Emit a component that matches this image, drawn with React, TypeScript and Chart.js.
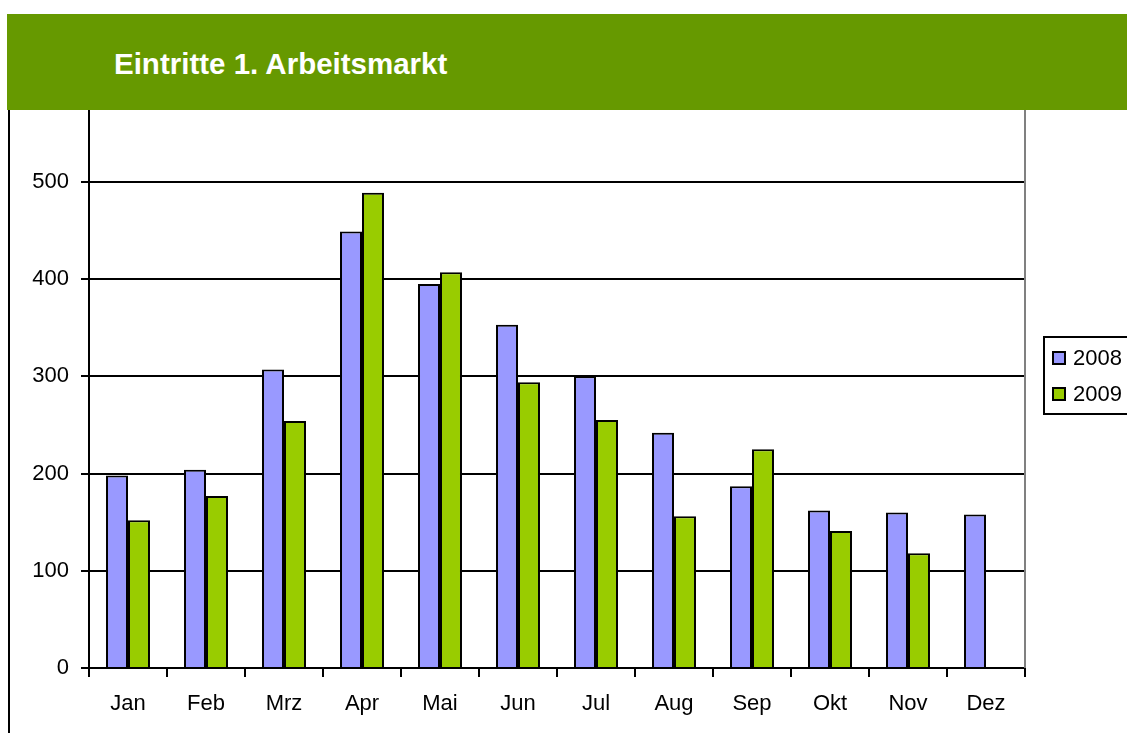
import React, { useEffect, useRef } from 'react';
import { Chart, registerables } from 'chart.js';

Chart.register(...registerables);

const title = 'Eintritte 1. Arbeitsmarkt';
const months = ['Jan', 'Feb', 'Mrz', 'Apr', 'Mai', 'Jun', 'Jul', 'Aug', 'Sep', 'Okt', 'Nov', 'Dez'];
const values2008 = [198, 204, 307, 449, 395, 353, 300, 242, 187, 162, 160, 158];
const values2009 = [152, 177, 254, 489, 407, 294, 255, 156, 225, 141, 118, null];
const seriesLabels = ['2008', '2009'];
const seriesColors = ['#9999FF', '#99CC00'];
const yTicks = [0, 100, 200, 300, 400, 500];
const yMax = 574;

const FONT = '"Liberation Sans", Arial, sans-serif';

const decorPlugin = {
  id: 'decor',
  afterDraw(chart: any) {
    const { ctx, chartArea } = chart;
    ctx.save();
    // right border of plot area
    ctx.strokeStyle = '#808080';
    ctx.lineWidth = 2;
    ctx.beginPath();
    ctx.moveTo(chartArea.right, chartArea.top);
    ctx.lineTo(chartArea.right, chartArea.bottom);
    ctx.stroke();
    // legend box
    const lx = chartArea.right + 19;
    const ly = 227;
    ctx.strokeStyle = '#000';
    ctx.lineWidth = 2;
    ctx.strokeRect(lx, ly, 140, 77);
    chart.data.datasets.forEach((ds: any, i: number) => {
      const sy = ly + 15 + i * 36;
      ctx.fillStyle = ds.backgroundColor;
      ctx.fillRect(lx + 9, sy, 12, 12);
      ctx.lineWidth = 2;
      ctx.strokeStyle = '#000';
      ctx.strokeRect(lx + 9, sy, 12, 12);
      ctx.fillStyle = '#000';
      ctx.font = `22px ${FONT}`;
      ctx.textBaseline = 'middle';
      ctx.textAlign = 'left';
      ctx.fillText(ds.label, lx + 29, sy + 7);
    });
    ctx.restore();
  },
};

export default function App() {
  const ref = useRef<HTMLCanvasElement>(null);

  useEffect(() => {
    const chart = new Chart(ref.current as HTMLCanvasElement, {
      type: 'bar',
      data: {
        labels: months,
        datasets: [
          {
            label: seriesLabels[0],
            data: values2008,
            backgroundColor: seriesColors[0],
            borderColor: '#000',
            borderWidth: 2,
            categoryPercentage: 0.564,
            barPercentage: 1,
          },
          {
            label: seriesLabels[1],
            data: values2009 as any,
            backgroundColor: seriesColors[1],
            borderColor: '#000',
            borderWidth: 2,
            categoryPercentage: 0.564,
            barPercentage: 1,
          },
        ],
      },
      options: {
        responsive: false,
        animation: false,
        layout: { padding: { left: 0, right: 102, top: 0, bottom: 0 } },
        plugins: {
          legend: { display: false },
          tooltip: { enabled: false },
          title: { display: false },
        },
        scales: {
          x: {
            offset: true,
            grid: {
              offset: true,
              drawOnChartArea: false,
              drawTicks: true,
              tickLength: 9,
              color: '#000',
              lineWidth: 2,
            },
            border: { display: true, color: '#000', width: 2 },
            ticks: {
              color: '#000',
              font: { family: FONT, size: 22 },
              padding: 14,
              maxRotation: 0,
              autoSkip: false,
            },
            afterFit: (scale: any) => {
              scale.height = 65;
              scale.paddingLeft = 0;
              scale.paddingRight = 0;
            },
          },
          y: {
            min: 0,
            max: yMax,
            afterBuildTicks: (axis: any) => {
              axis.ticks = yTicks.map((v) => ({ value: v }));
            },
            grid: {
              color: '#000',
              lineWidth: 2,
              drawTicks: true,
              tickLength: 8,
            },
            border: { display: true, color: '#000', width: 2 },
            ticks: {
              color: '#000',
              font: { family: FONT, size: 22 },
              padding: 12,
            },
            afterFit: (scale: any) => {
              scale.width = 79;
              scale.paddingTop = 0;
              scale.paddingBottom = 0;
            },
          },
        },
      },
      plugins: [decorPlugin],
    });
    return () => chart.destroy();
  }, []);

  return (
    <div
      style={{
        position: 'absolute',
        left: 0,
        top: 0,
        width: 1127,
        height: 733,
        overflow: 'hidden',
        background: '#fff',
      }}
    >
      <div
        style={{
          position: 'absolute',
          left: 7,
          top: 14,
          width: 1120,
          height: 96,
          background: '#669900',
        }}
      >
        <span
          style={{
            position: 'absolute',
            left: 107,
            top: 35,
            fontFamily: FONT,
            fontWeight: 'bold',
            fontSize: 29.5,
            lineHeight: '29px',
            color: '#fff',
            whiteSpace: 'nowrap',
          }}
        >
          {title}
        </span>
      </div>
      <div style={{ position: 'absolute', left: 8, top: 110, width: 2, height: 623, background: '#000' }} />
      <div style={{ position: 'absolute', left: 10, top: 110, width: 1117, height: 623 }}>
        <canvas ref={ref} width={1117} height={623} style={{ display: 'block' }} />
      </div>
    </div>
  );
}
